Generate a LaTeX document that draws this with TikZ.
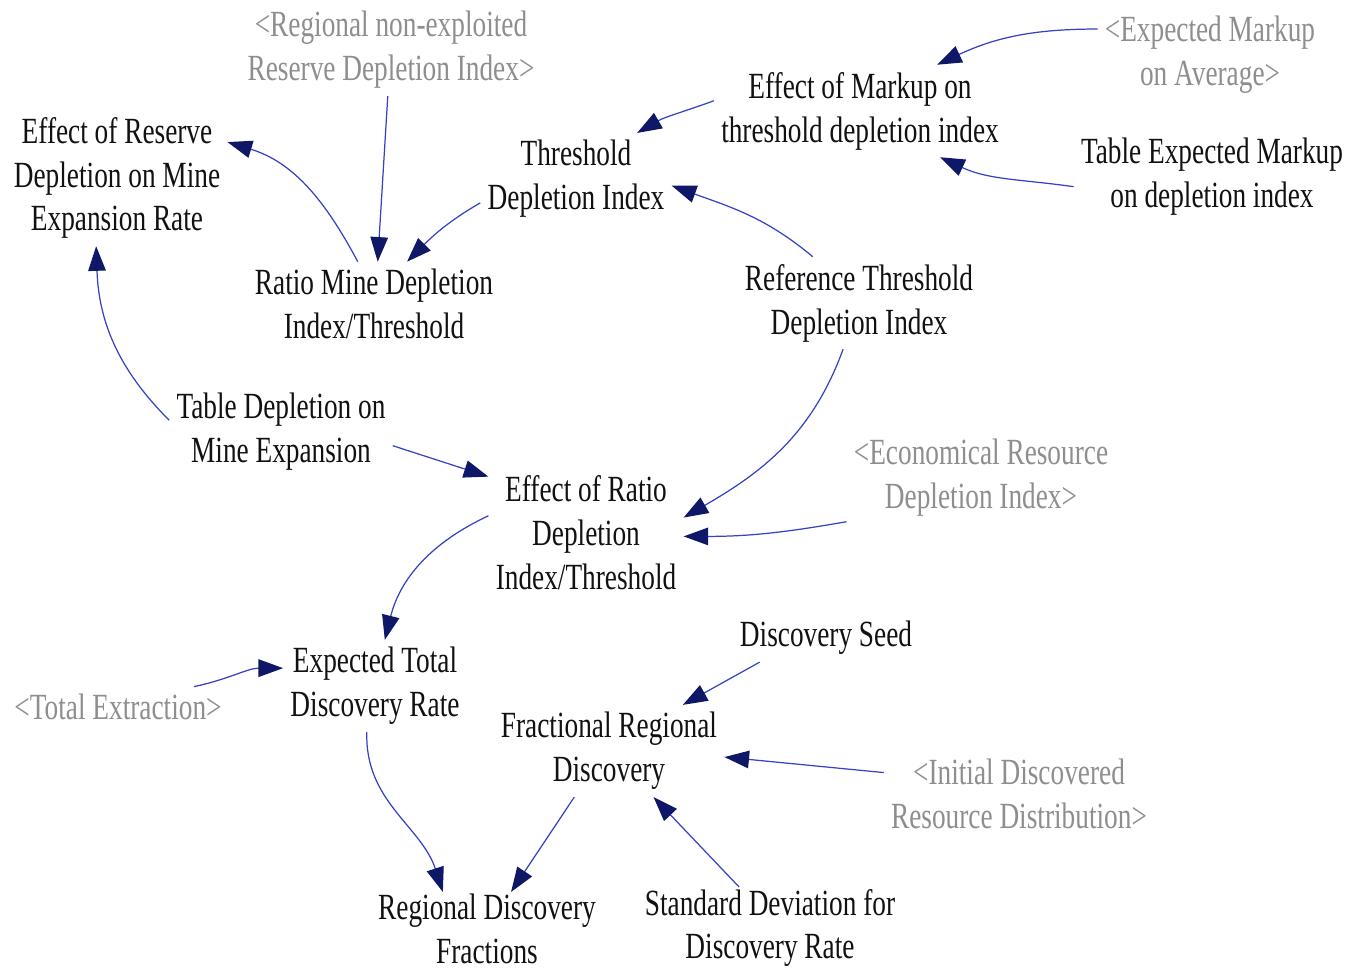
\documentclass[tikz,border=0pt]{standalone}
\usepackage{fontspec}
\setmainfont{Liberation Serif}[FakeStretch=0.74]
\usetikzlibrary{arrows.meta}
\definecolor{vdink}{HTML}{111111}
\definecolor{vdshade}{HTML}{8E8E8E}
\definecolor{vdline}{HTML}{3442C4}
\definecolor{vdhead}{HTML}{0E1866}
\tikzset{
  vdvar/.style={
    align=center, inner sep=4pt, text=vdink,
    font=\fontsize{21}{25}\selectfont},
  vdshadow/.style={vdvar, text=vdshade},
  vdlink/.style={
    draw=vdline, line width=0.7pt,
    -{Triangle[length=14pt, width=10pt, color=vdhead]}},
}

\begin{document}
\begin{tikzpicture}[x=0.02cm, y=0.02cm]
\useasboundingbox (0, 0) rectangle (1354, -969);

% Upper part: depletion index and threshold.
\node[vdvar] (effres) at (117, -178)
  {Effect of Reserve\\Depletion on Mine\\Expansion Rate};
\node[vdshadow] (regnon) at (391, -50)
  {<Regional non-exploited\\Reserve Depletion Index>};
\node[vdvar] (ratio) at (374, -304)
  {Ratio Mine Depletion\\Index/Threshold};
\node[vdvar] (thresh) at (576, -179) {Threshold\\Depletion Index};
\node[vdvar] (effmark) at (860, -111)
  {Effect of Markup on\\threshold depletion index};
\node[vdshadow] (expmark) at (1210, -55) {<Expected Markup\\on Average>};
\node[vdvar] (tabmark) at (1212, -177)
  {Table Expected Markup\\on depletion index};
\node[vdvar] (refthr) at (859, -303)
  {Reference Threshold\\Depletion Index};

% Middle part: effect of the ratio.
\node[vdvar] (tabdep) at (281, -432) {Table Depletion on\\Mine Expansion};
\node[vdvar] (effratio) at (586, -533)
  {Effect of Ratio\\Depletion\\Index/Threshold};
\node[vdshadow] (econ) at (981, -478)
  {<Economical Resource\\Depletion Index>};

% Lower part: discovery.
\node[vdvar] (exptot) at (375, -686) {Expected Total\\Discovery Rate};
\node[vdshadow] (totext) at (118, -707) {<Total Extraction>};
\node[vdvar] (seed) at (826, -638) {Discovery Seed};
\node[vdvar] (fracreg) at (609, -751) {Fractional Regional\\Discovery};
\node[vdshadow] (initdisc) at (1019, -794)
  {<Initial Discovered\\Resource Distribution>};
\node[vdvar, inner ysep=1pt] (regfrac) at (487, -929)
  {Regional Discovery\\Fractions};
\node[vdvar, inner ysep=1pt] (stddev) at (770, -928)
  {Standard Deviation for\\Discovery Rate};

% Links.
\draw[vdlink] (regnon.-94) -- (ratio.85);
\draw[vdlink] (ratio.111) to[out=118, in=-17] (effres.18);
\draw[vdlink] (thresh.194) to[out=210, in=45] (ratio.52);
\draw[vdlink] (effmark.176) to[out=200, in=30] (thresh.37);
\draw[vdlink] (expmark.167) to[out=180, in=25] (effmark.31);
\draw[vdlink] (tabmark.184) to[out=172, in=-25] (effmark.-30);
\draw[vdlink] (refthr.135) to[out=140, in=-20] (thresh.-4);
\draw[vdlink] (refthr.251) to[out=250, in=30] (effratio.9);
\draw[vdlink] (econ.198) to[out=190, in=0] (effratio.-2);
\draw[vdlink] (tabdep.174) to[out=135, in=-88] (effres.253);
\draw[vdlink] (tabdep.-7) -- (effratio.150);
\draw[vdlink] (effratio.170) to[out=205, in=76] (exptot.78);
\draw[vdlink] (totext.15) to[out=12, in=180] (exptot.169);
\draw[vdlink] (seed.200) -- (fracreg.32);
\draw[vdlink] (initdisc.171) -- (fracreg.-3);
\draw[vdlink] (fracreg.233) -- (regfrac.57);
\draw[vdlink] (stddev.127) -- (fracreg.-46);
\draw[vdlink] (exptot.260) to[out=268, in=108] (regfrac.140);

\end{tikzpicture}
\end{document}
